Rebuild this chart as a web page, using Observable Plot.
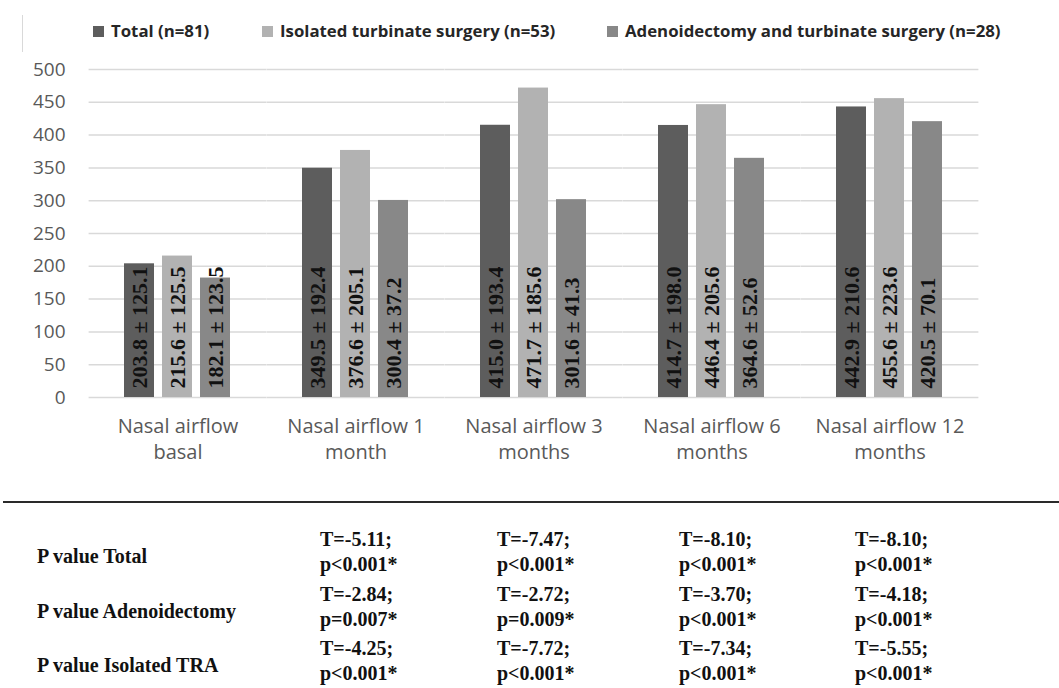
<!DOCTYPE html>
<html>
<head>
<meta charset="utf-8">
<script src="https://cdn.jsdelivr.net/npm/d3@7"></script>
<script src="https://cdn.jsdelivr.net/npm/@observablehq/plot@0.6"></script>
<style>
  body { margin: 0; background: #fff; }
  #wrap { position: relative; width: 1059px; height: 688px; overflow: hidden; font-family: "Open Sans", sans-serif; background: #fff; }
  .li { position: absolute; top: 21px; display: flex; align-items: center; font-weight: 700; font-size: 16.8px; color: #262626; white-space: nowrap; line-height: 20px; }
  .sw { width: 11px; height: 11px; margin-right: 7px; }
  #vline { position: absolute; left: 22px; top: 15px; width: 1px; height: 37px; background: #d9d9d9; }
  #chart { position: absolute; left: 0; top: 50px; }
  #hr { position: absolute; left: 3px; top: 501px; width: 1056px; height: 2px; background: #2a2a2a; }
  .tb { position: absolute; font-family: "Liberation Serif", "Times New Roman", serif; font-weight: 700; font-size: 20px; color: #111; white-space: nowrap; }
  .rl { line-height: 20px; }
  .cell { line-height: 25px; }
</style>
</head>
<body>
<div id="wrap">
  <div id="vline"></div>
  <div id="legend"></div>
  <div id="chart"></div>
  <div id="hr"></div>
  <div id="table"></div>
</div>
<script>
// ---- data ----
const categories = ["Nasal airflow\nbasal", "Nasal airflow 1\nmonth", "Nasal airflow 3\nmonths", "Nasal airflow 6\nmonths", "Nasal airflow 12\nmonths"];
const series = ["Total (n=81)", "Isolated turbinate surgery (n=53)", "Adenoidectomy and turbinate surgery (n=28)"];
const colors = ["#5d5d5d", "#b2b2b2", "#888888"];
const meanTotal = [203.8, 349.5, 415.0, 414.7, 442.9];
const sdTotal = [125.1, 192.4, 193.4, 198.0, 210.6];
const meanIsolated = [215.6, 376.6, 471.7, 446.4, 455.6];
const sdIsolated = [125.5, 205.1, 185.6, 205.6, 223.6];
const meanAdeno = [182.1, 300.4, 301.6, 364.6, 420.5];
const sdAdeno = [123.5, 37.2, 41.3, 52.6, 70.1];
const yTicks = [0, 50, 100, 150, 200, 250, 300, 350, 400, 450, 500];

const rowLabels = ["P value Total", "P value Adenoidectomy", "P value Isolated TRA"];
const tTotal = ["-5.11", "-7.47", "-8.10", "-8.10"];
const pTotal = ["<0.001", "<0.001", "<0.001", "<0.001"];
const tAdeno = ["-2.84", "-2.72", "-3.70", "-4.18"];
const pAdeno = ["=0.007", "=0.009", "<0.001", "<0.001"];
const tIsolated = ["-4.25", "-7.72", "-7.34", "-5.55"];
const pIsolated = ["<0.001", "<0.001", "<0.001", "<0.001"];

// ---- build table for plot ----
const means = [meanTotal, meanIsolated, meanAdeno];
const sds = [sdTotal, sdIsolated, sdAdeno];
const data = [];
categories.forEach((cat, i) => {
  series.forEach((s, j) => {
    data.push({cat, series: s, mean: means[j][i], label: `${means[j][i].toFixed(1)} ± ${sds[j][i].toFixed(1)}`});
  });
});

// ---- legend ----
const legend = document.getElementById("legend");
const legendLeft = [93, 262, 607];
series.forEach((s, j) => {
  const el = document.createElement("div");
  el.className = "li";
  el.style.left = legendLeft[j] + "px";
  el.innerHTML = `<span class="sw" style="background:${colors[j]}"></span><span>${s}</span>`;
  legend.appendChild(el);
});

// ---- chart ----
const chart = Plot.plot({
  width: 1059,
  height: 422,
  marginLeft: 87,
  marginRight: 78,
  marginTop: 19,
  marginBottom: 75,
  style: {fontFamily: "'Open Sans', sans-serif", background: "transparent"},
  fx: {domain: categories, paddingInner: 0.385, paddingOuter: 0.1925, label: null},
  x: {domain: series, paddingInner: 0.205, paddingOuter: 0, axis: null},
  y: {domain: [0, 500], axis: null},
  color: {domain: series, range: colors},
  marks: [
    Plot.ruleY(yTicks, {y: d => d, stroke: "#d9d9d9", strokeWidth: 1.5, insetLeft: -34.4, insetRight: -34.4}),
    Plot.axisY(yTicks, {tickSize: 0, tickPadding: 58, fontSize: 19, color: "#595959", label: null}),
    Plot.axisFx({anchor: "bottom", tickSize: 0, tickPadding: 17, fontSize: 20, lineHeight: 1.3, color: "#595959", label: null}),
    Plot.barY(data, {fx: "cat", x: "series", y: "mean", fill: "series"}),
    Plot.text(data, {fx: "cat", x: "series", y: () => 0, text: "label", rotate: -90, textAnchor: "start", dy: -9,
      fontFamily: "'Liberation Serif', 'Times New Roman', serif", fontWeight: "bold", fontSize: 22, fill: "#111"})
  ]
});
document.getElementById("chart").appendChild(chart);

// ---- p-value table ----
const table = document.getElementById("table");
const tRows = [tTotal, tAdeno, tIsolated];
const pRows = [pTotal, pAdeno, pIsolated];
const rowTop = [527, 582, 636];
const colLeft = [320, 497, 679, 855];
rowLabels.forEach((lab, r) => {
  const l = document.createElement("div");
  l.className = "tb rl";
  l.style.left = "37px";
  l.style.top = (rowTop[r] + 19) + "px";
  l.textContent = lab;
  table.appendChild(l);
  tRows[r].forEach((t, c) => {
    const d = document.createElement("div");
    d.className = "tb cell";
    d.style.left = colLeft[c] + "px";
    d.style.top = rowTop[r] + "px";
    d.innerHTML = `T=${t};<br>p${pRows[r][c].replace("<", "&lt;")}*`;
    table.appendChild(d);
  });
});
</script>
</body>
</html>
